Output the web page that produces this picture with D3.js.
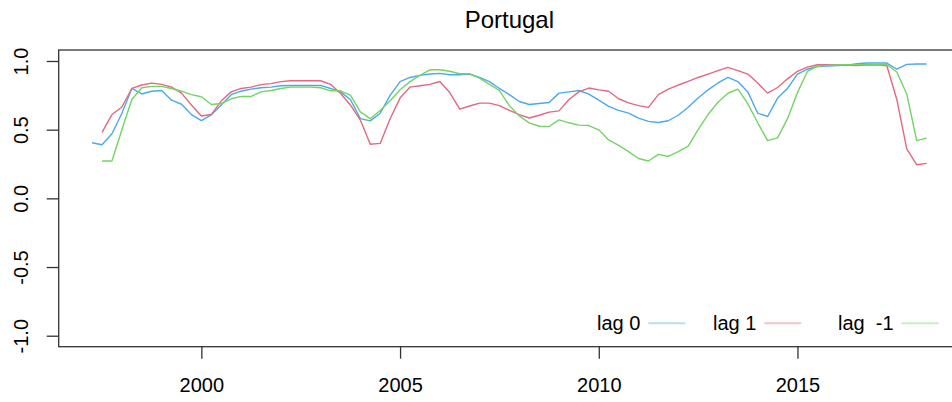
<!DOCTYPE html>
<html>
<head>
<meta charset="utf-8">
<script src="https://cdn.jsdelivr.net/npm/d3@7"></script>
<style>
  body { margin: 0; background: #fff; }
  text { font-family: "Liberation Sans", Arial, sans-serif; fill: #000; }
</style>
</head>
<body>
<div id="wrapper"></div>
<script>
// quarterly dates (decimal years)
const quarters = [
  1997.25, 1997.5, 1997.75,
  1998, 1998.25, 1998.5, 1998.75,
  1999, 1999.25, 1999.5, 1999.75,
  2000, 2000.25, 2000.5, 2000.75,
  2001, 2001.25, 2001.5, 2001.75,
  2002, 2002.25, 2002.5, 2002.75,
  2003, 2003.25, 2003.5, 2003.75,
  2004, 2004.25, 2004.5, 2004.75,
  2005, 2005.25, 2005.5, 2005.75,
  2006, 2006.25, 2006.5, 2006.75,
  2007, 2007.25, 2007.5, 2007.75,
  2008, 2008.25, 2008.5, 2008.75,
  2009, 2009.25, 2009.5, 2009.75,
  2010, 2010.25, 2010.5, 2010.75,
  2011, 2011.25, 2011.5, 2011.75,
  2012, 2012.25, 2012.5, 2012.75,
  2013, 2013.25, 2013.5, 2013.75,
  2014, 2014.25, 2014.5, 2014.75,
  2015, 2015.25, 2015.5, 2015.75,
  2016, 2016.25, 2016.5, 2016.75,
  2017, 2017.25, 2017.5, 2017.75,
  2018, 2018.25
]

// lag 0
const lag0 = [
  0.405, 0.39, 0.47,
  0.62, 0.80, 0.76, 0.78,
  0.785, 0.715, 0.685, 0.61,
  0.566, 0.608, 0.68, 0.755,
  0.78, 0.795, 0.805, 0.81,
  0.82, 0.822, 0.822, 0.822,
  0.822, 0.80, 0.775, 0.72,
  0.58, 0.564, 0.62, 0.75,
  0.85, 0.88, 0.895, 0.905,
  0.91, 0.90, 0.90, 0.905,
  0.88, 0.85, 0.80, 0.755,
  0.705, 0.683, 0.69, 0.698,
  0.766, 0.775, 0.785, 0.759,
  0.715, 0.67, 0.64, 0.62,
  0.584, 0.56, 0.552, 0.565,
  0.605, 0.663, 0.73, 0.79,
  0.84, 0.88, 0.85, 0.775,
  0.62, 0.596, 0.73, 0.80,
  0.905, 0.94, 0.96, 0.963,
  0.966, 0.97, 0.98, 0.985,
  0.985, 0.985, 0.94, 0.975,
  0.978, 0.978
]

// lag 1
const lag1 = [
  null, 0.48, 0.61,
  0.665, 0.80, 0.825, 0.839,
  0.83, 0.81, 0.766, 0.68,
  0.60, 0.61, 0.71, 0.775,
  0.80, 0.81, 0.828, 0.835,
  0.85, 0.856, 0.856, 0.856,
  0.856, 0.83, 0.765, 0.68,
  0.57, 0.394, 0.40, 0.58,
  0.73, 0.81, 0.82, 0.83,
  0.851, 0.77, 0.65, 0.672,
  0.693, 0.693, 0.675, 0.64,
  0.61, 0.585, 0.605, 0.628,
  0.637, 0.72, 0.775, 0.803,
  0.79, 0.78, 0.725, 0.695,
  0.675, 0.662, 0.755, 0.795,
  0.825, 0.852, 0.88, 0.905,
  0.93, 0.953, 0.93, 0.905,
  0.839, 0.766, 0.807, 0.87,
  0.925, 0.955, 0.973, 0.973,
  0.972, 0.968, 0.966, 0.97,
  0.973, 0.965, 0.72, 0.36,
  0.245, 0.255
]

// lag -1
const lagMinus1 = [
  null, 0.272, 0.272,
  0.50, 0.72, 0.805, 0.815,
  0.815, 0.80, 0.78, 0.755,
  0.74, 0.683, 0.69, 0.725,
  0.742, 0.742, 0.775, 0.785,
  0.80, 0.81, 0.81, 0.81,
  0.805, 0.783, 0.783, 0.752,
  0.63, 0.58, 0.64, 0.71,
  0.79, 0.85, 0.895, 0.936,
  0.936, 0.925, 0.907, 0.907,
  0.875, 0.83, 0.785, 0.675,
  0.60, 0.55, 0.525, 0.523,
  0.571, 0.55, 0.533, 0.53,
  0.499, 0.425, 0.385, 0.34,
  0.29, 0.272, 0.32, 0.305,
  0.34, 0.38, 0.50, 0.61,
  0.70, 0.765, 0.795, 0.69,
  0.55, 0.42, 0.44, 0.58,
  0.77, 0.924, 0.962, 0.968,
  0.972, 0.973, 0.973, 0.973,
  0.973, 0.973, 0.92, 0.76,
  0.42, 0.438
]

const xTicks = [2000, 2005, 2010, 2015]
const yTicks = [-1, -0.5, 0, 0.5, 1]
const seriesNames = ["lag 0", "lag 1", "lag  -1"]
const seriesColors = ["#4aa9ec", "#e3687f", "#74d364"]
const title = "Portugal"

function drawChart() {
  const dimensions = {
    width: 952,
    height: 402,
    margins: { top: 50, right: -8, bottom: 55.3, left: 58.7 },
  }
  dimensions.boundedWidth =
    dimensions.width - dimensions.margins.left - dimensions.margins.right
  dimensions.boundedHeight =
    dimensions.height - dimensions.margins.top - dimensions.margins.bottom

  const wrapper = d3
    .select("#wrapper")
    .append("svg")
    .attr("width", dimensions.width)
    .attr("height", dimensions.height)

  const bounds = wrapper
    .append("g")
    .attr("transform", `translate(${dimensions.margins.left},${dimensions.margins.top})`)

  // R style 4% padding on both axes
  const xExtent = d3.extent(quarters)
  const xPad = (xExtent[1] - xExtent[0]) * 0.04
  const xScale = d3
    .scaleLinear()
    .domain([xExtent[0] - xPad, xExtent[1] + xPad])
    .range([0, dimensions.boundedWidth])

  const yScale = d3
    .scaleLinear()
    .domain([-1.08, 1.08])
    .range([dimensions.boundedHeight, 0])

  // lines
  const allSeries = [lag0, lag1, lagMinus1]
  const lineGenerator = d3
    .line()
    .defined((d) => d[1] != null)
    .x((d) => xScale(d[0]))
    .y((d) => yScale(d[1]))

  allSeries.forEach((values, i) => {
    bounds
      .append("path")
      .attr("d", lineGenerator(quarters.map((q, j) => [q, values[j]])))
      .attr("fill", "none")
      .attr("stroke", seriesColors[i])
      .attr("stroke-width", 1.4)
      .attr("stroke-linejoin", "round")
  })

  // box
  bounds
    .append("rect")
    .attr("x", 0)
    .attr("y", 0)
    .attr("width", dimensions.boundedWidth)
    .attr("height", dimensions.boundedHeight)
    .attr("fill", "none")
    .attr("stroke", "#333")
    .attr("stroke-width", 1.3)

  // x axis
  const xAxis = bounds
    .append("g")
    .attr("transform", `translate(0,${dimensions.boundedHeight})`)
    .call(d3.axisBottom(xScale).tickValues(xTicks).tickSize(12).tickFormat(d3.format("d")))
  xAxis.select(".domain").remove()
  xAxis.selectAll(".tick line").attr("stroke", "#333").attr("stroke-width", 1.3)
  xAxis
    .selectAll(".tick text")
    .attr("y", 45)
    .attr("dy", 0)
    .style("font-size", "20px")
    .style("font-family", '"Liberation Sans", Arial, sans-serif')
    .attr("fill", "#000")

  // y axis (plain hyphen for negatives, like R)
  const yFormat = (d) => d3.format(".1f")(d).replace("\u2212", "-")
  const yAxis = bounds
    .append("g")
    .call(d3.axisLeft(yScale).tickValues(yTicks).tickSize(12).tickFormat(yFormat))
  yAxis.select(".domain").remove()
  yAxis.selectAll(".tick line").attr("stroke", "#333").attr("stroke-width", 1.3)
  yAxis
    .selectAll(".tick text")
    .attr("transform", "rotate(-90)")
    .attr("x", 0)
    .attr("y", -30.7)
    .attr("dy", 0)
    .attr("text-anchor", "middle")
    .style("font-size", "20px")
    .style("font-family", '"Liberation Sans", Arial, sans-serif')
    .attr("fill", "#000")

  // title
  wrapper
    .append("text")
    .attr("x", dimensions.margins.left + dimensions.boundedWidth / 2)
    .attr("y", 27.5)
    .attr("text-anchor", "middle")
    .style("font-size", "24px")
    .text(title)

  // legend: text then a short line, laid out horizontally
  const legendTextX = [597, 713, 838]
  const legend = wrapper.append("g")
  seriesNames.forEach((name, i) => {
    const t = legend
      .append("text")
      .attr("x", legendTextX[i])
      .attr("y", 330)
      .style("font-size", "20px")
      .style("white-space", "pre")
      .attr("xml:space", "preserve")
      .text(name)
    const w = t.node().getComputedTextLength()
    legend
      .append("line")
      .attr("x1", legendTextX[i] + w + 8)
      .attr("x2", legendTextX[i] + w + 45)
      .attr("y1", 323.3)
      .attr("y2", 323.3)
      .attr("stroke", seriesColors[i])
      .attr("stroke-opacity", 0.4)
      .attr("stroke-width", 2)
  })
}

drawChart()
</script>
</body>
</html>
